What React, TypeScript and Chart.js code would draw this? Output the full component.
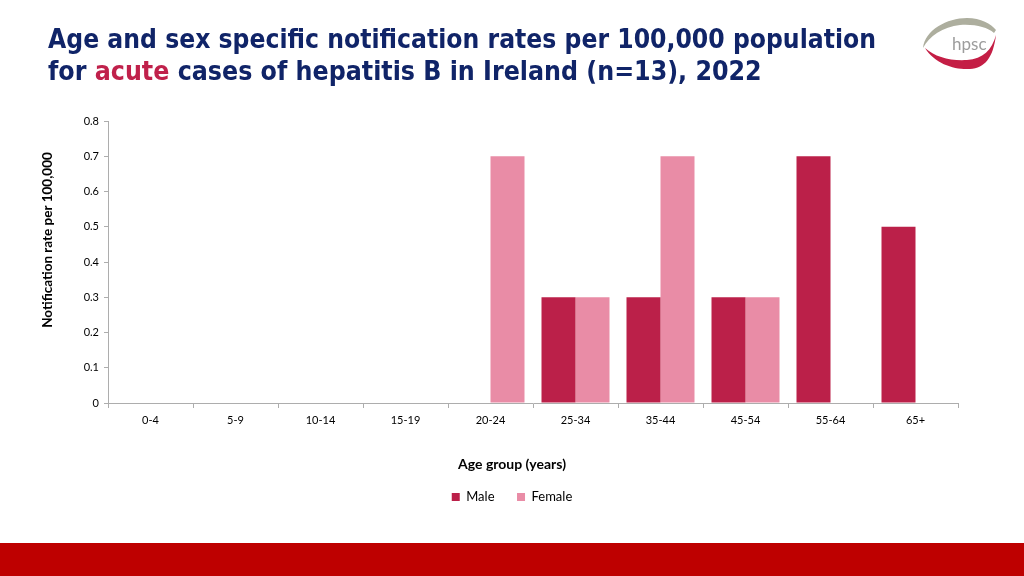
import React, { useEffect, useLayoutEffect, useRef, useState } from "react";
import { Chart, registerables } from "chart.js";

Chart.register(...registerables);

const ageGroups = ["0-4", "5-9", "10-14", "15-19", "20-24", "25-34", "35-44", "45-54", "55-64", "65+"];
const maleRates = [0, 0, 0, 0, 0, 0.3, 0.3, 0.3, 0.7, 0.5];
const femaleRates = [0, 0, 0, 0, 0.7, 0.3, 0.7, 0.3, 0, 0];
const seriesNames = ["Male", "Female"];
const yMin = 0;
const yMax = 0.8;
const yStep = 0.1;
const yAxisTitle = "Notification rate per 100,000";
const xAxisTitle = "Age group (years)";
const titleLine1 = "Age and sex specific notification rates per 100,000 population";
const titleLine2Parts = ["for ", "acute", " cases of hepatitis B in Ireland (n=13), 2022"];

const MALE_COLOR = "#BB2049";
const FEMALE_COLOR = "#E98CA6";
const AXIS_COLOR = "#ADADAD";
const NAVY = "#102468";
const FONT = "Lato, 'Open Sans', sans-serif";

const axisTitlePlugin = {
  id: "axisTitlesCustom",
  afterDraw(chart: any) {
    const { ctx, chartArea } = chart;
    ctx.save();
    ctx.fillStyle = "#000";
    ctx.textAlign = "center";
    ctx.textBaseline = "middle";
    ctx.font = `bold 14px ${FONT}`;
    ctx.fillText(xAxisTitle, chart.width / 2, chartArea.bottom + 61);
    ctx.font = `bold 13.5px ${FONT}`;
    ctx.translate(chartArea.left - 60, (chartArea.top + chartArea.bottom) / 2 - 22);
    ctx.rotate(-Math.PI / 2);
    ctx.fillText(yAxisTitle, 0, 0);
    ctx.restore();
  },
};

function BarChart() {
  const ref = useRef<HTMLCanvasElement | null>(null);
  useEffect(() => {
    if (!ref.current) return;
    const chart = new Chart(ref.current, {
      type: "bar",
      data: {
        labels: ageGroups,
        datasets: [
          {
            label: seriesNames[0],
            data: maleRates,
            backgroundColor: MALE_COLOR,
            borderWidth: 0,
            categoryPercentage: 0.8,
            barPercentage: 1.0,
          },
          {
            label: seriesNames[1],
            data: femaleRates,
            backgroundColor: FEMALE_COLOR,
            borderWidth: 0,
            categoryPercentage: 0.8,
            barPercentage: 1.0,
          },
        ],
      },
      options: {
        responsive: false,
        animation: false,
        layout: { padding: { top: 121, left: 66, right: 66, bottom: 62.5 } },
        plugins: {
          legend: {
            position: "bottom",
            labels: {
              boxWidth: 8,
              boxHeight: 8,
              padding: 22.5,
              color: "#000",
              font: { family: FONT, size: 13 },
            },
          },
          tooltip: { enabled: false },
        },
        scales: {
          x: {
            grid: {
              offset: true,
              drawOnChartArea: false,
              drawTicks: true,
              tickLength: 5,
              color: AXIS_COLOR,
            },
            border: { color: AXIS_COLOR },
            ticks: {
              color: "#000",
              font: { family: FONT, size: 11 },
              padding: 6,
              autoSkip: false,
              maxRotation: 0,
            },
            afterFit: (s: any) => {
              s.height = 65;
            },
          },
          y: {
            min: yMin,
            max: yMax,
            ticks: {
              stepSize: yStep,
              color: "#000",
              font: { family: FONT, size: 11 },
              padding: 5,
            },
            grid: {
              drawOnChartArea: false,
              drawTicks: true,
              tickLength: 4,
              color: AXIS_COLOR,
            },
            border: { color: AXIS_COLOR },
            afterFit: (s: any) => {
              s.width = 42;
            },
          },
        },
      },
      plugins: [axisTitlePlugin],
    } as any);
    return () => chart.destroy();
  }, []);
  return <canvas ref={ref} width={1024} height={576} style={{ position: "absolute", left: 0, top: 0, display: "block" }} />;
}

function Title() {
  const r1 = useRef<HTMLSpanElement | null>(null);
  const r2 = useRef<HTMLSpanElement | null>(null);
  const [scales, setScales] = useState([1, 1]);
  useLayoutEffect(() => {
    const w1 = r1.current ? r1.current.scrollWidth : 828;
    const w2 = r2.current ? r2.current.scrollWidth : 714;
    setScales([828 / w1, 714 / w2]);
  }, []);
  const lineStyle: React.CSSProperties = {
    whiteSpace: "nowrap",
    display: "inline-block",
    transformOrigin: "left center",
  };
  return (
    <div
      style={{
        position: "absolute",
        left: 48,
        top: 23,
        fontFamily: "'DejaVu Sans', sans-serif",
        fontWeight: "bold",
        fontSize: 27,
        lineHeight: "32px",
        color: NAVY,
      }}
    >
      <div>
        <span ref={r1} style={{ ...lineStyle, transform: `scaleX(${scales[0]})` }}>
          {titleLine1}
        </span>
      </div>
      <div>
        <span ref={r2} style={{ ...lineStyle, transform: `scaleX(${scales[1]})` }}>
          {titleLine2Parts[0]}
          <span style={{ color: "#C0214B" }}>{titleLine2Parts[1]}</span>
          {titleLine2Parts[2]}
        </span>
      </div>
    </div>
  );
}

function Logo() {
  return (
    <svg width={90} height={72} style={{ position: "absolute", left: 915, top: 8 }} viewBox="0 0 90 72">
      <path
        d="M 8 40 C 10 22, 32 10, 52 10 C 66 10, 76 16, 81 22 L 79 25 C 72 19, 60 16, 45 17 C 28 19, 14 28, 8 40 Z"
        fill="#ADAE9E"
      />
      <path
        d="M 10 40 C 20 56, 40 62, 55 61 C 70 60, 78 50, 81 27 C 77 42, 68 51, 52 52 C 35 53, 20 49, 10 40 Z"
        fill="#C41E45"
      />
      <text x={37} y={42} fontFamily="Lato, 'Open Sans', sans-serif" fontSize={17} fill="#9C9C9C">
        hpsc
      </text>
    </svg>
  );
}

export default function App() {
  return (
    <div
      style={{
        position: "absolute",
        left: 0,
        top: 0,
        width: 1024,
        height: 576,
        overflow: "hidden",
        background: "#fff",
      }}
    >
      <BarChart />
      <Title />
      <Logo />
      <div style={{ position: "absolute", left: 0, top: 543, width: 1024, height: 33, background: "#BE0000" }} />
    </div>
  );
}
